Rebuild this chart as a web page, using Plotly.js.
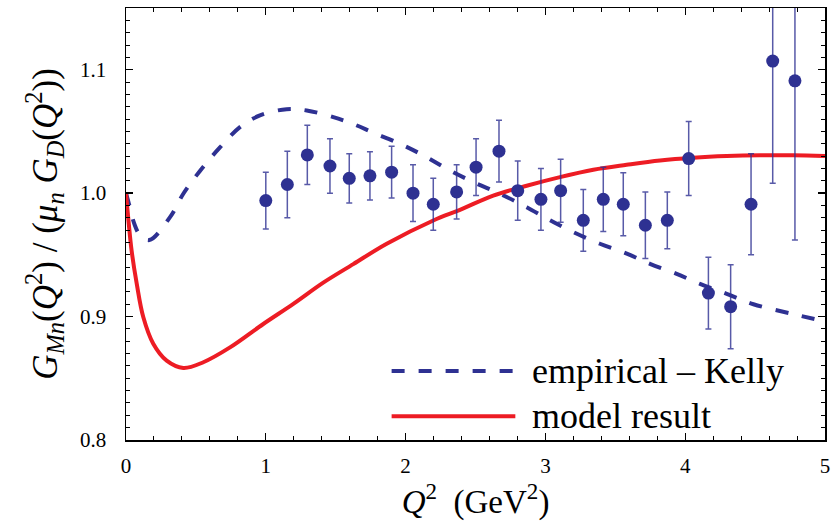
<!DOCTYPE html>
<html><head><meta charset="utf-8">
<script src="https://cdn.plot.ly/plotly-3.0.1.min.js"></script>
<style>html,body{margin:0;padding:0;background:#fff}</style>
</head><body><div id="chart" style="width:837px;height:527px"></div>
<script>
// Experimental data points
const dataQ2    = [1.0, 1.154, 1.297, 1.459, 1.597, 1.745, 1.90, 2.053, 2.198, 2.365, 2.504, 2.668, 2.802, 2.968, 3.109, 3.271, 3.414, 3.557, 3.715, 3.872, 4.025, 4.166, 4.325, 4.471, 4.626, 4.785];
const dataRatio = [0.994, 1.007, 1.031, 1.022, 1.012, 1.014, 1.017, 1.000, 0.991, 1.001, 1.021, 1.034, 1.002, 0.995, 1.002, 0.978, 0.995, 0.991, 0.974, 0.978, 1.028, 0.919, 0.908, 0.991, 1.107, 1.091];
const dataErr   = [0.023, 0.027, 0.024, 0.022, 0.020, 0.0195, 0.021, 0.023, 0.021, 0.022, 0.023, 0.025, 0.024, 0.025, 0.0255, 0.025, 0.026, 0.0255, 0.027, 0.023, 0.030, 0.029, 0.034, 0.041, 0.099, 0.129];

// Empirical Kelly fit (dashed)
const kellyQ2    = [0, 0.017, 0.06, 0.10, 0.167, 0.315, 0.41, 0.529, 0.672, 0.815, 0.958, 1.149, 1.293, 1.483, 1.626, 1.769, 1.96, 2.127, 2.294, 2.484, 2.675, 2.866, 3.033, 3.2, 3.39, 3.582, 3.748, 3.939, 4.106, 4.297, 4.488, 4.774, 5.0];
const kellyRatio = [1.0, 0.993, 0.975, 0.966, 0.962, 0.9805, 0.9995, 1.018, 1.037, 1.0535, 1.063, 1.068, 1.067, 1.0616, 1.056, 1.049, 1.040, 1.0306, 1.0198, 1.009, 0.9995, 0.9886, 0.978, 0.9684, 0.959, 0.951, 0.9427, 0.9346, 0.9265, 0.9184, 0.910, 0.902, 0.896];

// Model result (solid red)
const modelQ2    = [0, 0.02, 0.04, 0.077, 0.124, 0.195, 0.291, 0.41, 0.553, 0.744, 0.982, 1.197, 1.411, 1.626, 1.865, 2.198, 2.389, 2.627, 2.866, 3.104, 3.343, 3.581, 3.82, 4.058, 4.297, 4.535, 4.774, 5.0];
const modelRatio = [1.0, 0.975, 0.9535, 0.9265, 0.8994, 0.878, 0.8643, 0.8584, 0.863, 0.875, 0.894, 0.9103, 0.9275, 0.9425, 0.959, 0.9778, 0.9865, 0.998, 1.006, 1.013, 1.019, 1.023, 1.0265, 1.0287, 1.030, 1.0306, 1.0306, 1.030];

const legendLabels = ['empirical \u2013 Kelly', 'model result'];
const xTicks = [0, 1, 2, 3, 4, 5];
const yTicks = [0.8, 0.9, 1.0, 1.1];
const yTickText = ['0.8', '0.9', '1.0', '1.1'];

const blue = '#2e3192';
const red = '#ed1c24';
const serif = 'Times New Roman';

const traces = [
  {x: kellyQ2, y: kellyRatio, mode: 'lines', line: {color: blue, width: 4, dash: '13px,14px', shape: 'spline', smoothing: 1}},
  {x: modelQ2, y: modelRatio, mode: 'lines', line: {color: red, width: 4, shape: 'spline', smoothing: 1}},
  {x: dataQ2, y: dataRatio, mode: 'markers', marker: {color: blue, size: 13},
   error_y: {type: 'data', array: dataErr, visible: true, color: 'rgba(46,49,146,0.8)', thickness: 1.5, width: 3}}
];

const axisCommon = {
  showline: true, linecolor: '#000', linewidth: 1.5, mirror: 'ticks',
  ticks: 'inside', ticklen: 7, tickwidth: 1.3, tickcolor: '#000',
  showgrid: false, zeroline: false,
  tickfont: {family: serif, size: 21, color: '#000'}
};

const layout = {
  width: 837, height: 527,
  margin: {l: 126, r: 12, t: 8, b: 87},
  paper_bgcolor: '#fff', plot_bgcolor: '#fff',
  showlegend: false,
  xaxis: Object.assign({}, axisCommon, {
    range: [0, 5], tickvals: xTicks, ticktext: xTicks.map(String),
    minor: {dtick: 0.2, ticklen: 4, tickwidth: 1, ticks: 'inside', tickcolor: '#000'},
    ticklabelstandoff: 6,
    title: {text: '<i>Q</i><sup>2</sup>  (GeV<sup>2</sup>)', font: {family: serif, size: 33, color: '#000'}, standoff: 6}
  }),
  yaxis: Object.assign({}, axisCommon, {
    range: [0.8, 1.15], tickvals: yTicks, ticktext: yTickText,
    minor: {dtick: 0.01, ticklen: 4, tickwidth: 1, ticks: 'inside', tickcolor: '#000'},
    ticklabelstandoff: 14,
    title: {text: '<i>G</i><sub><i>Mn</i></sub>(<i>Q</i><sup>2</sup>) / (<i>\u03bc</i><sub><i>n</i></sub> <i>G</i><sub><i>D</i></sub>(<i>Q</i><sup>2</sup>))', font: {family: serif, size: 35, color: '#000'}, standoff: 12}
  }),
  shapes: [
    {type: 'line', xref: 'paper', yref: 'paper', x0: 0.380, x1: 0.557, y0: 0.160, y1: 0.160, line: {color: blue, width: 4, dash: '13px,14px'}},
    {type: 'line', xref: 'paper', yref: 'paper', x0: 0.380, x1: 0.557, y0: 0.055, y1: 0.055, line: {color: red, width: 4}}
  ],
  annotations: [
    {xref: 'paper', yref: 'paper', x: 0.578, y: 0.160, xanchor: 'left', yanchor: 'middle', showarrow: false, text: legendLabels[0], font: {family: serif, size: 36, color: '#000'}},
    {xref: 'paper', yref: 'paper', x: 0.578, y: 0.055, xanchor: 'left', yanchor: 'middle', showarrow: false, text: legendLabels[1], font: {family: serif, size: 36, color: '#000'}}
  ]
};

Plotly.newPlot('chart', traces, layout, {staticPlot: true});
</script>
</body></html>
